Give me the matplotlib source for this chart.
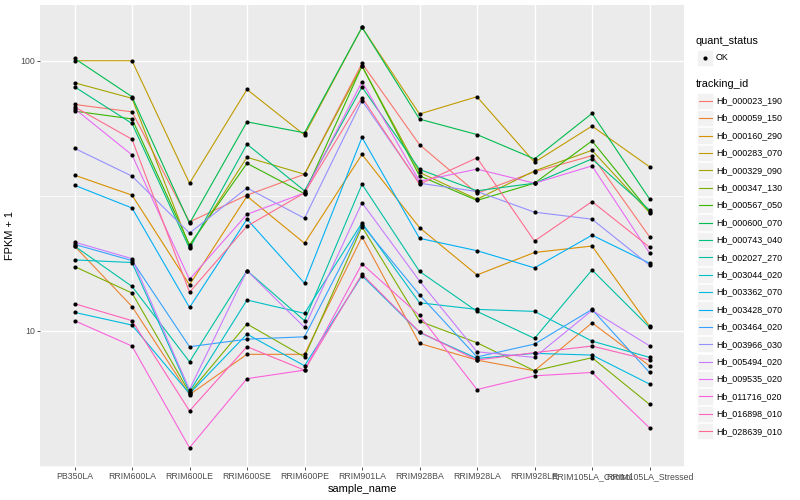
import numpy as np
import matplotlib
matplotlib.use("Agg")
import matplotlib.pyplot as plt
from matplotlib.ticker import FixedLocator, NullFormatter
from matplotlib.patches import Rectangle

plt.rcParams['font.family'] = ['Liberation Sans', 'DejaVu Sans']

samples = ["PB350LA", "RRIM600LA", "RRIM600LE", "RRIM600SE", "RRIM600PE",
           "RRIM901LA", "RRIM928BA", "RRIM928LA", "RRIM928LE",
           "RRIM105LA_Control", "RRIM105LA_Stressed"]

# FPKM + 1 per gene, in sample order
hb_000023_190 = [68.9, 64.7, 25.3, 31.8, 38.0, 97.8, 48.9, 32.3, 38.8, 44.5, 22.3]
hb_000059_150 = [20.6, 12.3, 5.8, 8.18, 8.18, 22.3, 8.98, 7.79, 7.11, 10.7, 7.42]
hb_000160_290 = [37.7, 31.8, 14.8, 31.5, 21.1, 45.0, 24.1, 16.1, 19.5, 20.6, 10.4]
hb_000283_070 = [100, 100, 35.2, 78.3, 53.1, 133, 63.5, 73.6, 42.1, 57.3, 40.5]
hb_000329_090 = [82.9, 72.6, 20.5, 43.9, 38.0, 95.6, 38.6, 30.7, 39.1, 46.6, 27.4]
hb_000347_130 = [17.3, 13.8, 5.9, 10.6, 8.0, 24.3, 10.85, 9.03, 7.11, 7.95, 5.34]
hb_000567_050 = [65.1, 60.9, 20.8, 41.7, 32.2, 95.6, 37.5, 30.4, 35.2, 50.5, 27.6]
hb_000600_070 = [102, 73.6, 25.0, 59.4, 54.1, 133, 60.8, 53.3, 43.3, 63.8, 30.8]
hb_000743_040 = [80.1, 58.6, 20.2, 49.1, 33.0, 79.9, 39.6, 33.0, 35.2, 43.3, 28.0]
hb_002027_270 = [20.6, 14.6, 7.68, 16.7, 10.9, 34.9, 16.6, 11.8, 9.37, 16.8, 10.3]
hb_003044_020 = [18.3, 17.9, 5.95, 13.0, 11.6, 25.1, 12.7, 12.0, 11.8, 9.16, 7.97]
hb_003362_070 = [11.7, 10.5, 5.85, 9.72, 7.42, 16.0, 9.86, 7.9, 8.25, 8.13, 6.35]
hb_003428_070 = [34.6, 28.5, 12.2, 25.9, 15.0, 52.0, 22.0, 19.8, 17.1, 22.6, 17.8]
hb_003464_020 = [20.9, 18.2, 8.73, 9.31, 9.5, 24.7, 13.6, 8.0, 8.93, 12.0, 7.01]
hb_003966_030 = [47.4, 37.4, 23.0, 33.8, 26.1, 71.2, 35.2, 32.8, 27.5, 25.9, 17.5]
hb_005494_020 = [21.3, 18.5, 6.06, 16.7, 10.3, 29.8, 15.3, 8.36, 7.97, 11.9, 8.8]
hb_009535_020 = [66.5, 44.8, 15.5, 27.0, 32.4, 83.6, 35.8, 39.7, 35.2, 40.8, 19.4]
hb_011716_020 = [10.9, 8.78, 3.69, 6.65, 7.15, 17.7, 11.4, 6.06, 6.81, 7.01, 4.37]
hb_016898_010 = [12.6, 10.9, 5.05, 8.73, 7.15, 16.2, 9.9, 7.79, 8.3, 8.78, 7.79]
hb_028639_010 = [67.5, 51.2, 13.9, 24.4, 32.4, 73.1, 34.9, 43.7, 21.5, 30.1, 20.4]

tracking_ids = ["Hb_000023_190", "Hb_000059_150", "Hb_000160_290", "Hb_000283_070",
                "Hb_000329_090", "Hb_000347_130", "Hb_000567_050", "Hb_000600_070",
                "Hb_000743_040", "Hb_002027_270", "Hb_003044_020", "Hb_003362_070",
                "Hb_003428_070", "Hb_003464_020", "Hb_003966_030", "Hb_005494_020",
                "Hb_009535_020", "Hb_011716_020", "Hb_016898_010", "Hb_028639_010"]
series = [hb_000023_190, hb_000059_150, hb_000160_290, hb_000283_070, hb_000329_090,
          hb_000347_130, hb_000567_050, hb_000600_070, hb_000743_040, hb_002027_270,
          hb_003044_020, hb_003362_070, hb_003428_070, hb_003464_020, hb_003966_030,
          hb_005494_020, hb_009535_020, hb_011716_020, hb_016898_010, hb_028639_010]

# ggplot hue palette, 20 levels
colors = ["#F8766D", "#EA8331", "#D89000", "#C09B00", "#A3A500", "#7CAE00", "#39B600",
          "#00BB4E", "#00BF7D", "#00C1A3", "#00BFC4", "#00BAE0", "#00B0F6", "#35A2FF",
          "#9590FF", "#C77CFF", "#E76BF3", "#FA62DB", "#FF62BC", "#FF6C91"]

fig = plt.figure(figsize=(8, 5), dpi=100)
ax = fig.add_axes([40 / 800, 1 - 467 / 500, 644 / 800, 462 / 500])
ax.set_facecolor('#EBEBEB')
ax.set_yscale('log')
ax.set_ylim(3.13, 160.9)
ax.set_xlim(-0.6, 10.6)

x = np.arange(len(samples))
for vals, c in zip(series, colors):
    ax.plot(x, vals, color=c, lw=0.8, zorder=2)
for vals in series:
    ax.scatter(x, vals, s=9, color='black', marker='o', linewidths=0, zorder=3)

ax.set_yticks([10, 100])
ax.set_yticklabels(['10', '100'])
ax.yaxis.set_minor_locator(FixedLocator([10 ** 0.5, 10 ** 1.5]))
ax.yaxis.set_minor_formatter(NullFormatter())
ax.set_xticks(x)
ax.set_xticklabels(samples)
ax.tick_params(which='major', length=2, width=0.6, color='#333333',
               labelsize=6.3, labelcolor='#4D4D4D', pad=1.5)
ax.tick_params(which='minor', length=0)
ax.grid(which='major', color='white', lw=1.0)
ax.grid(which='minor', color='white', lw=0.5)
ax.set_axisbelow(True)
for s in ax.spines.values():
    s.set_visible(False)

ax.set_xlabel('sample_name', fontsize=7.9, labelpad=2)
ax.set_ylabel('FPKM + 1', fontsize=7.9, labelpad=4)

# legends drawn in pixel space
lg = fig.add_axes([0, 0, 1, 1])
lg.set_xlim(0, 800)
lg.set_ylim(500, 0)
lg.axis('off')

lg.text(696, 41, 'quant_status', fontsize=7.8, va='center', ha='left')
lg.add_patch(Rectangle((697, 49.5), 16, 16, facecolor='#F2F2F2', edgecolor='white', lw=0.5))
lg.scatter([705], [57.5], s=9, color='black', linewidths=0)
lg.text(716, 57.5, 'OK', fontsize=6.4, va='center', ha='left')

lg.text(696, 84, 'tracking_id', fontsize=7.8, va='center', ha='left')
step = 17.4
for i, (name, c) in enumerate(zip(tracking_ids, colors)):
    yc = 100.7 + i * step
    lg.add_patch(Rectangle((697, yc - 8.2), 16, 16.4, facecolor='#F2F2F2',
                           edgecolor='white', lw=0.5))
    lg.plot([698.5, 711.5], [yc, yc], color=c, lw=0.8)
    lg.text(716, yc, name, fontsize=6.4, va='center', ha='left')

fig.savefig('out.png', dpi=100)
